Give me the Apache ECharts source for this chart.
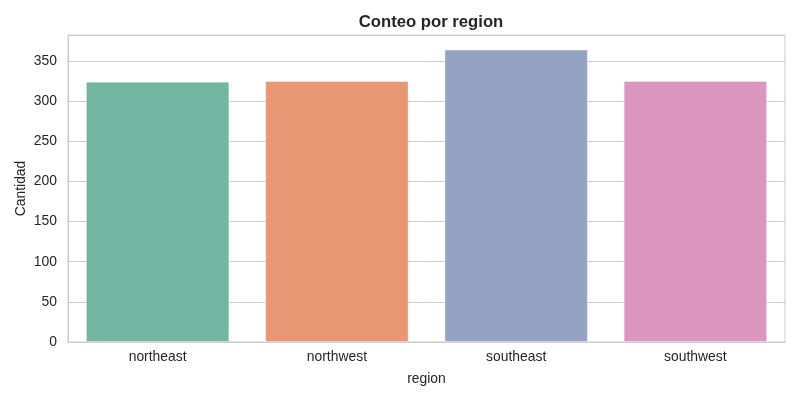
<!DOCTYPE html>
<html>
<head>
<meta charset="utf-8">
<script src="https://cdn.jsdelivr.net/npm/echarts@6/dist/echarts.min.js"></script>
<style>html,body{margin:0;padding:0;background:#fff}#c{width:800px;height:400px}</style>
</head>
<body>
<div id="c"></div>
<script>
const categories = ['northeast', 'northwest', 'southeast', 'southwest'];
const counts = [324, 325, 364, 325];
const barColors = ['#72b6a1', '#e99675', '#95a3c3', '#db96c0'];
const yTicks = [0, 50, 100, 150, 200, 250, 300, 350];

const chart = echarts.init(document.getElementById('c'), null, {renderer: 'canvas'});
const font = 'Liberation Sans, Arial, sans-serif';
chart.setOption({
  animation: false,
  backgroundColor: '#ffffff',
  title: {
    text: 'Conteo por region',
    left: 426, top: 9, textAlign: 'center',
    textStyle: {fontFamily: font, fontSize: 16.7, fontWeight: 'bold', color: '#262626'}
  },
  grid: {left: 68, right: 15, top: 35, bottom: 58, show: true, borderColor: '#cccccc', borderWidth: 1, backgroundColor: 'transparent'},
  xAxis: {
    type: 'category',
    data: categories,
    name: 'region', nameLocation: 'middle', nameGap: 30, nameMoveOverlap: false,
    nameTextStyle: {fontFamily: font, fontSize: 13.9, color: '#262626'},
    axisLine: {show: true, lineStyle: {color: '#cccccc'}},
    axisTick: {show: false},
    axisLabel: {fontFamily: font, fontSize: 13.9, color: '#262626', margin: 8},
    splitLine: {show: false}
  },
  yAxis: {
    type: 'value',
    min: 0, max: 382.2, interval: 50,
    name: 'Cantidad', nameLocation: 'middle', nameGap: 40, nameRotate: 90, nameMoveOverlap: false,
    nameTextStyle: {fontFamily: font, fontSize: 13.9, color: '#262626'},
    axisLine: {show: true, lineStyle: {color: '#cccccc'}},
    axisTick: {show: false},
    axisLabel: {fontFamily: font, fontSize: 13.9, color: '#262626', margin: 11,
      formatter: v => yTicks.includes(v) ? String(v) : ''},
    splitLine: {show: true, lineStyle: {color: '#cccccc', width: 1}}
  },
  series: [{
    type: 'bar',
    data: counts.map((v, i) => ({value: v, itemStyle: {color: barColors[i]}})),
    barCategoryGap: '20%',
    itemStyle: {borderColor: 'rgba(255,255,255,0.35)', borderWidth: 1}
  }]
});
</script>
</body>
</html>
